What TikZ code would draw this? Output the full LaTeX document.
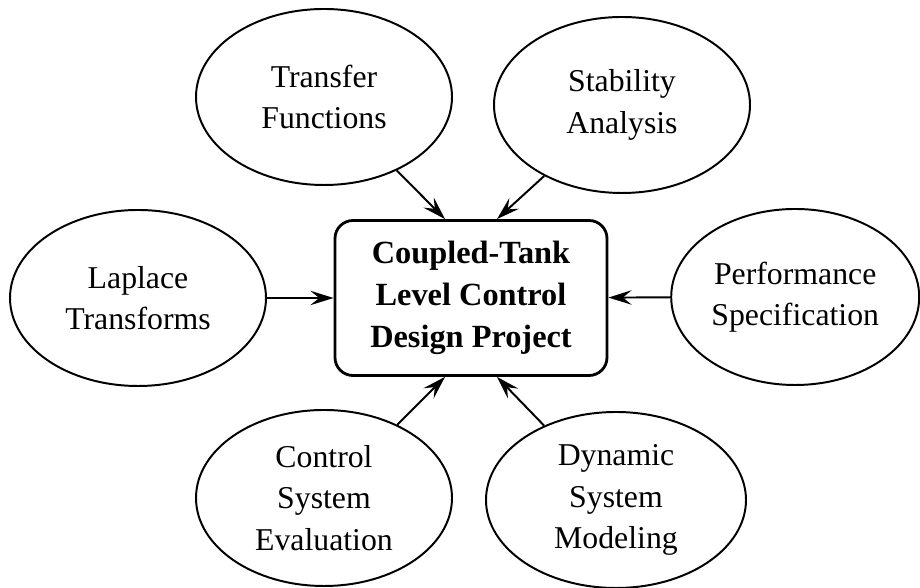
\documentclass[tikz,border=0pt]{standalone}
\usepackage{fontspec}
\setmainfont{Liberation Serif}
\usetikzlibrary{shapes.geometric,arrows.meta}
\begin{document}
\begin{tikzpicture}[
    topic/.style={draw=black,line width=1.4pt,ellipse,minimum width=6.4cm,minimum height=4.4cm,inner sep=0pt,align=center,font=\fontsize{22.6}{29.5}\selectfont},
    project/.style={draw=black,line width=2pt,rounded corners=0.45cm,minimum width=6.8cm,minimum height=3.875cm,align=center,font=\fontsize{23}{30}\selectfont\bfseries},
    feed/.style={-{Stealth[length=0.58cm,width=0.36cm,inset=0.22cm]},line width=1.4pt}]
    \useasboundingbox (0,0) rectangle (23,14.7);
    \node[project] (proj) at (11.775,7.25) {Coupled-Tank\\Level Control\\Design Project};
    \node[topic] (tf) at (8.1,12.275) {Transfer\\Functions};
    \node[topic] (sa) at (15.55,12.075) {Stability\\Analysis};
    \node[topic] (lt) at (3.45,7.25) {Laplace\\Transforms};
    \node[topic,minimum width=6.2cm] (ps) at (19.88,7.275) {Performance\\Specification};
    \node[topic] (cse) at (8.1,2.25) {Control\\System\\Evaluation};
    \node[topic,minimum width=6.5cm] (dsm) at (15.4,2.2) {Dynamic\\System\\Modeling};
    \draw[feed] (tf) -- ([xshift=-0.65cm]proj.north);
    \draw[feed] (sa) -- ([xshift=0.65cm]proj.north);
    \draw[feed] (lt) -- (proj);
    \draw[feed] (ps) -- (proj);
    \draw[feed] (cse) -- ([xshift=-0.65cm]proj.south);
    \draw[feed] (dsm) -- ([xshift=0.65cm]proj.south);
\end{tikzpicture}
\end{document}
